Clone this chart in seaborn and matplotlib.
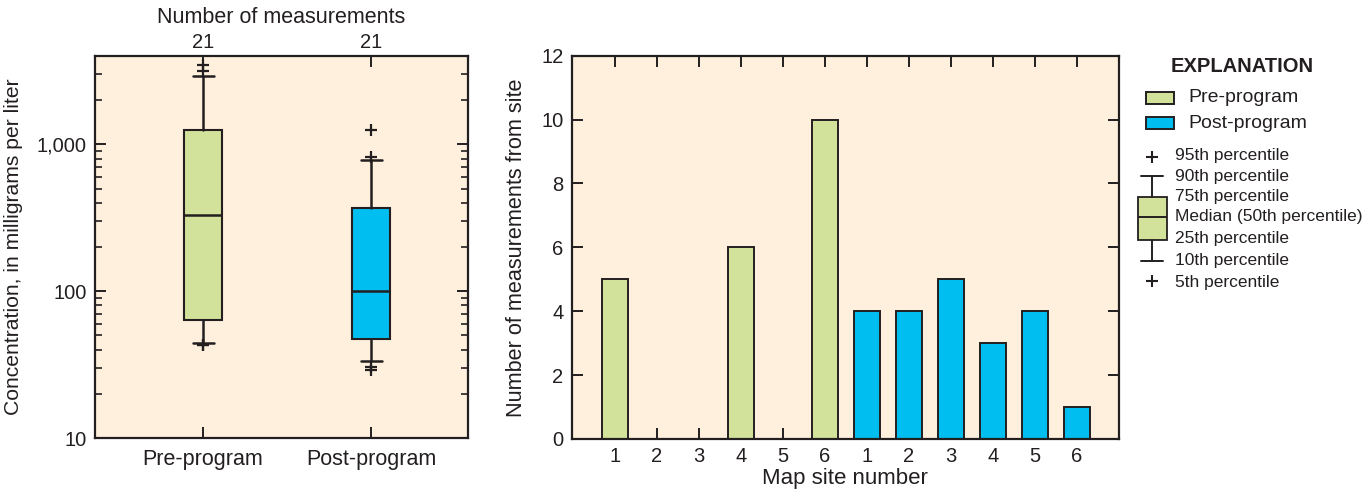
import numpy as np
import pandas as pd
import matplotlib
matplotlib.use('Agg')
import matplotlib.pyplot as plt
import matplotlib.ticker as mticker
import seaborn as sns

# box plot summary (mg/L)
groups = ['Pre-program', 'Post-program']
n_meas = [21, 21]
p10 = [44.5, 33.3]
p25 = [64, 47.3]
p50 = [328, 101]
p75 = [1255, 368]
p90 = [2910, 785]
pluses_hi = [[3150, 3450], [820, 1255]]
pluses_lo = [[43, 43], [30.3, 28.9]]

# bar chart: measurements per map site
site_labels = ['1', '2', '3', '4', '5', '6', '1', '2', '3', '4', '5', '6']
site_group = ['Pre-program'] * 6 + ['Post-program'] * 6
site_counts = [5, 0, 0, 6, 0, 10, 4, 4, 5, 3, 4, 1]

green = '#d3e29b'
blue = '#00bff0'
bg = '#fef0dc'
ink = '#231f20'

sns.set_style('ticks')
plt.rcParams['font.family'] = ['Liberation Sans', 'DejaVu Sans']
plt.rcParams['axes.edgecolor'] = ink
plt.rcParams['axes.linewidth'] = 1.6
plt.rcParams['xtick.color'] = ink
plt.rcParams['ytick.color'] = ink
plt.rcParams['text.color'] = ink
plt.rcParams['axes.labelcolor'] = ink

W, H = 1370, 493
fig = plt.figure(figsize=(W / 100, H / 100), dpi=100)


def px_axes(x0, y0, x1, y1):
    return fig.add_axes([x0 / W, 1 - y1 / H, (x1 - x0) / W, (y1 - y0) / H])


def style_ticks(ax):
    ax.tick_params(which='major', direction='in', length=8, width=1.4,
                   top=True, right=True, labelsize=14.5, pad=6)
    ax.tick_params(which='minor', direction='in', length=5, width=1.2,
                   top=False, right=True)


# ---------- left: box plot ----------
ax1 = px_axes(95, 56, 468, 438)
ax1.set_facecolor(bg)
stats = []
for i, g in enumerate(groups):
    stats.append(dict(label=g, med=p50[i], q1=p25[i], q3=p75[i],
                      whislo=p10[i], whishi=p90[i], fliers=[]))
bp = ax1.bxp(stats, positions=[0, 1], widths=0.222, patch_artist=True,
             showfliers=False,
             boxprops=dict(linewidth=1.5, edgecolor=ink),
             medianprops=dict(color=ink, linewidth=1.8),
             whiskerprops=dict(color=ink, linewidth=1.8),
             capprops=dict(color=ink, linewidth=1.8),
             capwidths=0.125)
for patch, c in zip(bp['boxes'], [green, blue]):
    patch.set_facecolor(c)
for i in range(2):
    ys = pluses_hi[i] + pluses_lo[i]
    ax1.plot([i] * len(ys), ys, ls='none', marker='+', ms=9, mew=1.6,
             color=ink, zorder=5)
ax1.set_yscale('log')
ax1.set_ylim(10, 4000)
ax1.set_xlim(-0.643, 1.577)
ax1.yaxis.set_major_locator(mticker.FixedLocator([10, 100, 1000]))
ax1.yaxis.set_major_formatter(mticker.FuncFormatter(lambda v, p: f'{int(v):,}'))
ax1.yaxis.set_minor_locator(mticker.LogLocator(base=10, subs=np.arange(2, 10)))
ax1.yaxis.set_minor_formatter(mticker.NullFormatter())
ax1.set_xticks([0, 1])
ax1.set_xticklabels(groups)
style_ticks(ax1)
ax1.tick_params(axis='x', labelsize=15.5, pad=8)
ax1.set_ylabel('Concentration, in milligrams per liter', fontsize=15.2, labelpad=10)
ax1.set_xlabel('')
for i, n in enumerate(n_meas):
    ax1.annotate(str(n), xy=(i, 1), xycoords=('data', 'axes fraction'),
                 xytext=(0, 3), textcoords='offset points', ha='center',
                 va='bottom', fontsize=14.5)
ax1.annotate('Number of measurements', xy=(0.5, 1), xycoords='axes fraction',
             xytext=(0, 20), textcoords='offset points', ha='center',
             va='bottom', fontsize=15.5)

# ---------- right: bar chart ----------
ax2 = px_axes(571.7, 55.7, 1119, 439)
ax2.set_facecolor(bg)
df = pd.DataFrame({'slot': [f'{g[:3]}{s}' for g, s in zip(site_group, site_labels)],
                   'group': site_group, 'count': site_counts})
sns.barplot(data=df, x='slot', y='count', hue='group', dodge=False,
            palette={'Pre-program': green, 'Post-program': blue},
            width=0.61, edgecolor=ink, linewidth=1.4, saturation=1,
            legend=False, ax=ax2)
ax2.set_xlim(-1.03, 12)
ax2.set_ylim(0, 12)
ax2.set_yticks(range(0, 13, 2))
ax2.set_xticks(range(len(site_labels)))
ax2.set_xticklabels(site_labels)
style_ticks(ax2)
ax2.set_xlabel('Map site number', fontsize=16, labelpad=1)
ax2.set_ylabel('Number of measurements from site', fontsize=15.6, labelpad=10)

# ---------- explanation ----------
def ftext(x, y, s, **kw):
    fig.text(x / W, 1 - y / H, s, va='center', **kw)

ftext(1242, 67, 'EXPLANATION', ha='center', fontsize=14.5, fontweight='bold')
for y, c, lab in [(98, green, 'Pre-program'), (123, blue, 'Post-program')]:
    fig.patches.append(plt.Rectangle(((1146) / W, 1 - (y + 6) / H), 28 / W, 12 / H,
                                     transform=fig.transFigure, facecolor=c,
                                     edgecolor=ink, linewidth=1.4))
    ftext(1188, y, lab, ha='left', fontsize=14)

axl = px_axes(1130, 145, 1176, 292)
axl.set_xlim(1130, 1176)
axl.set_ylim(292, 145)
axl.axis('off')
lg = axl.bxp([dict(med=217, q1=240, q3=196.7, whislo=260.7, whishi=176, fliers=[])],
             positions=[1152], widths=29, patch_artist=True, showfliers=False,
             boxprops=dict(linewidth=1.3, edgecolor=ink, facecolor=green),
             medianprops=dict(color=ink, linewidth=1.4),
             whiskerprops=dict(color=ink, linewidth=1.4),
             capprops=dict(color=ink, linewidth=1.4), capwidths=22)
axl.plot([1152, 1152], [156.7, 280.5], ls='none', marker='+', ms=8, mew=1.5, color=ink)
for y, s in [(156, '95th percentile'), (176, '90th percentile'),
             (196, '75th percentile'), (217, 'Median (50th percentile)'),
             (239, '25th percentile'), (260, '10th percentile'),
             (282, '5th percentile')]:
    ftext(1175, y, s, ha='left', fontsize=12.5)

fig.savefig('out.png', dpi=100, facecolor='white')
